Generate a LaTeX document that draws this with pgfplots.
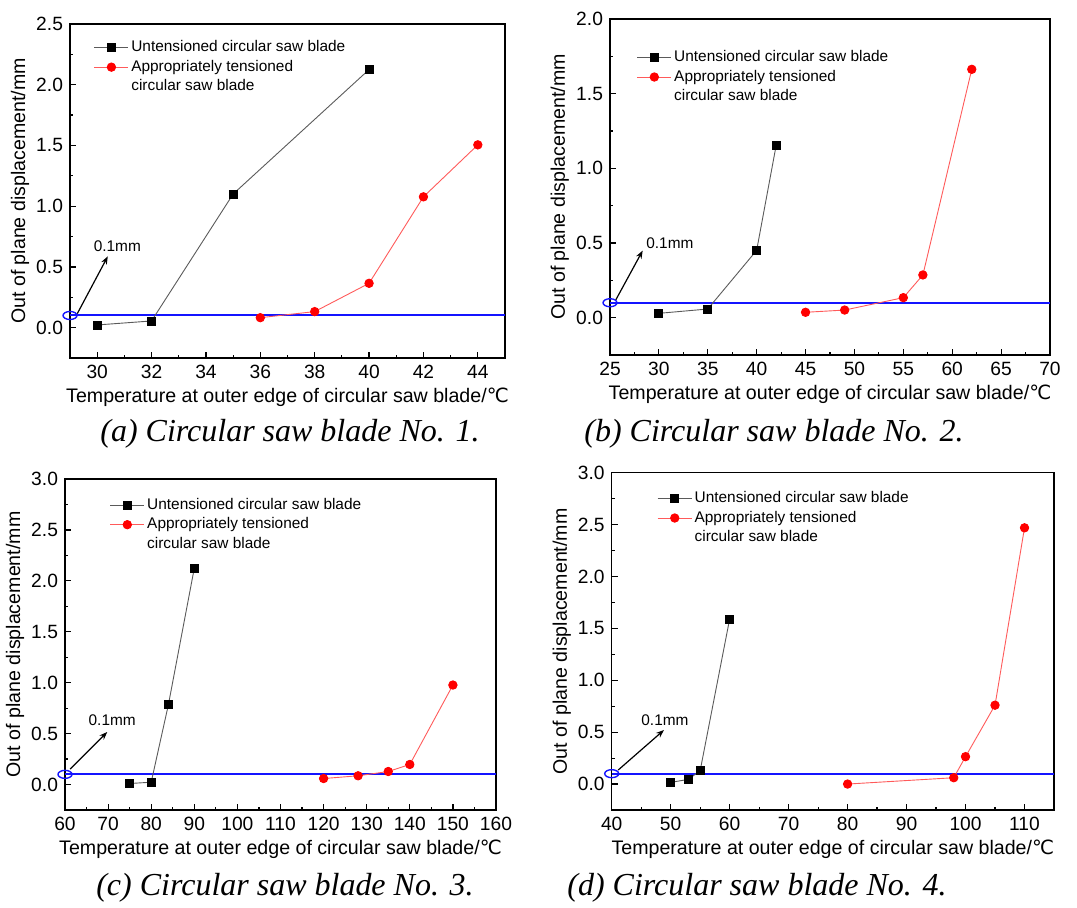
\documentclass[border=0pt]{standalone}
\usepackage{pgfplots}
\pgfplotsset{compat=1.18}
\usepackage{fontspec}
\setmainfont{Liberation Sans}
\newfontfamily\seriffont{Liberation Serif}
\newfontfamily\dejavu{DejaVu Sans}
\usetikzlibrary{arrows.meta}

\definecolor{blk}{RGB}{90,90,90}
\definecolor{redline}{RGB}{255,90,90}
\definecolor{refblue}{RGB}{20,20,255}

\pgfplotsset{
  sawstyle/.style={
    scale only axis,
    clip=false,
    anchor=south west,
    axis line style={line width=0.6pt},
    tick align=inside,
    xtick pos=left, ytick pos=left,
    minor tick num=1,
    major tick length=3pt, minor tick length=1.5pt,
    every tick/.style={black, line width=0.6pt},
    tick label style={font=\fontsize{9.6}{11}\selectfont},
    /pgf/number format/assume math mode=true,
    yticklabel style={/pgf/number format/fixed, /pgf/number format/fixed zerofill, /pgf/number format/precision=1},
    label style={font=\fontsize{9.8}{12}\selectfont},
    xlabel={Temperature at outer edge of circular saw blade/{\dejavu ℃}},
    ylabel={Out of plane displacement/mm},
    x label style={at={(axis description cs:0.5,0)}, anchor=center, yshift=-19.4pt},
    legend style={draw=none, fill=none, inner sep=0pt, font=\fontsize{7.7}{9}\selectfont,
      nodes={inner sep=1.2pt, text height=5.8pt, text depth=1.6pt}, row sep=0pt, anchor=north west},
    legend cell align=left,
  },
  blkplot/.style={blk, line width=0.45pt, mark=square*, mark size=2pt, mark options={fill=black, draw=black}},
  redplot/.style={redline, line width=0.45pt, mark=*, mark size=2.1pt, mark options={fill=red, draw=red}},
  refline/.style={refblue, line width=1pt, forget plot},
}
\newcommand{\annfont}{\fontsize{7.7}{9}\selectfont}
\newcommand{\capfont}{\seriffont\itshape\fontsize{16}{19}\selectfont}

\begin{document}
\begin{tikzpicture}
\path[use as bounding box] (0,0) rectangle (538.5pt,453.5pt);

% (a)
\begin{axis}[sawstyle, at={(35pt,274.5pt)}, width=217.5pt, height=167pt,
  xmin=29, xmax=45, ymin=-0.25, ymax=2.5,
  xtick={30,32,...,44}, ytick={0,0.5,...,2.5},
  y label style={at={(axis description cs:-0.115,0.5)}, anchor=center},
  legend style={at={(axis description cs:0.054,0.96)}}]
\addplot[refline] coordinates {(29,0.1) (45,0.1)};
\addplot[blkplot] coordinates {(30,0.022) (32,0.055) (35,1.10) (40,2.125)};
\addlegendentry{Untensioned circular saw blade}
\addplot[redplot] coordinates {(36,0.082) (38,0.132) (40,0.365) (42,1.077) (44,1.505)};
\addlegendentry{Appropriately tensioned}
\addlegendimage{empty legend}
\addlegendentry{circular saw blade}
\draw[refblue, line width=0.7pt] (axis cs:29,0.1) ellipse [x radius=3.5pt, y radius=2pt];
\draw[black, line width=0.6pt, -{Stealth[length=4pt, width=3pt]}] (axis cs:29.27,0.116) -- (axis cs:30.39,0.587);
\node[anchor=west, inner sep=0pt, font=\annfont] at (axis cs:29.86,0.667) {0.1mm};
\end{axis}

% (b)
\begin{axis}[sawstyle, at={(305pt,276pt)}, width=220pt, height=168pt,
  xmin=25, xmax=70, ymin=-0.25, ymax=2.0,
  xtick={25,30,...,70}, ytick={0,0.5,...,2.0},
  y label style={at={(axis description cs:-0.114,0.5)}, anchor=center},
  legend style={at={(axis description cs:0.060,0.916)}}]
\addplot[refline] coordinates {(25,0.1) (70,0.1)};
\addplot[blkplot] coordinates {(30,0.029) (35,0.058) (40,0.451) (42,1.156)};
\addlegendentry{Untensioned circular saw blade}
\addplot[redplot] coordinates {(45,0.036) (49,0.051) (55,0.134) (57,0.286) (62,1.663)};
\addlegendentry{Appropriately tensioned}
\addlegendimage{empty legend}
\addlegendentry{circular saw blade}
\draw[refblue, line width=0.7pt] (axis cs:25,0.1) ellipse [x radius=3.5pt, y radius=2pt];
\draw[black, line width=0.6pt, -{Stealth[length=4pt, width=3pt]}] (axis cs:25.6,0.12) -- (axis cs:28.34,0.449);
\node[anchor=west, inner sep=0pt, font=\annfont] at (axis cs:28.68,0.502) {0.1mm};
\end{axis}

% (c)
\begin{axis}[sawstyle, at={(32.5pt,48.5pt)}, width=215.5pt, height=165.5pt,
  xmin=60, xmax=160, ymin=-0.25, ymax=3.0,
  xtick={60,70,...,160}, ytick={0,0.5,...,3.0},
  y label style={at={(axis description cs:-0.116,0.5)}, anchor=center},
  legend style={at={(axis description cs:0.103,0.952)}}]
\addplot[refline] coordinates {(60,0.1) (160,0.1)};
\addplot[blkplot] coordinates {(75,0.01) (80,0.023) (84,0.786) (90,2.125)};
\addlegendentry{Untensioned circular saw blade}
\addplot[redplot] coordinates {(120,0.059) (128,0.086) (135,0.128) (140,0.197) (150,0.977)};
\addlegendentry{Appropriately tensioned}
\addlegendimage{empty legend}
\addlegendentry{circular saw blade}
\draw[refblue, line width=0.7pt] (axis cs:60,0.1) ellipse [x radius=3.5pt, y radius=2pt];
\draw[black, line width=0.6pt, -{Stealth[length=4pt, width=3pt]}] (axis cs:61.2,0.151) -- (axis cs:69.8,0.516);
\node[anchor=west, inner sep=0pt, font=\annfont] at (axis cs:65.4,0.635) {0.1mm};
\end{axis}

% (d)
\begin{axis}[sawstyle, at={(305.85pt,48.5pt)}, width=221.15pt, height=168.65pt,
  xmin=40, xmax=115, ymin=-0.25, ymax=3.0,
  xtick={40,50,...,110}, ytick={0,0.5,...,3.0},
  y label style={at={(axis description cs:-0.113,0.5)}, anchor=center},
  legend style={at={(axis description cs:0.102,0.954)}}]
\addplot[refline] coordinates {(40,0.1) (115,0.1)};
\addplot[blkplot] coordinates {(50,0.016) (53,0.045) (55,0.129) (60,1.59)};
\addlegendentry{Untensioned circular saw blade}
\addplot[redplot] coordinates {(80,0.0) (98,0.061) (100,0.264) (105,0.76) (110,2.469)};
\addlegendentry{Appropriately tensioned}
\addlegendimage{empty legend}
\addlegendentry{circular saw blade}
\draw[refblue, line width=0.7pt] (axis cs:40,0.1) ellipse [x radius=3.5pt, y radius=2pt];
\draw[black, line width=0.6pt, -{Stealth[length=4pt, width=3pt]}] (axis cs:41.1,0.135) -- (axis cs:48.87,0.521);
\node[anchor=west, inner sep=0pt, font=\annfont] at (axis cs:44.97,0.618) {0.1mm};
\end{axis}

\node[font=\capfont, anchor=center] at (145pt,236.5pt) {(a) Circular saw blade No. 1.};
\node[font=\capfont, anchor=center] at (387pt,236.5pt) {(b) Circular saw blade No. 2.};
\node[font=\capfont, anchor=center] at (142.5pt,9.5pt) {(c) Circular saw blade No. 3.};
\node[font=\capfont, anchor=center] at (378.5pt,9.5pt) {(d) Circular saw blade No. 4.};
\end{tikzpicture}
\end{document}
